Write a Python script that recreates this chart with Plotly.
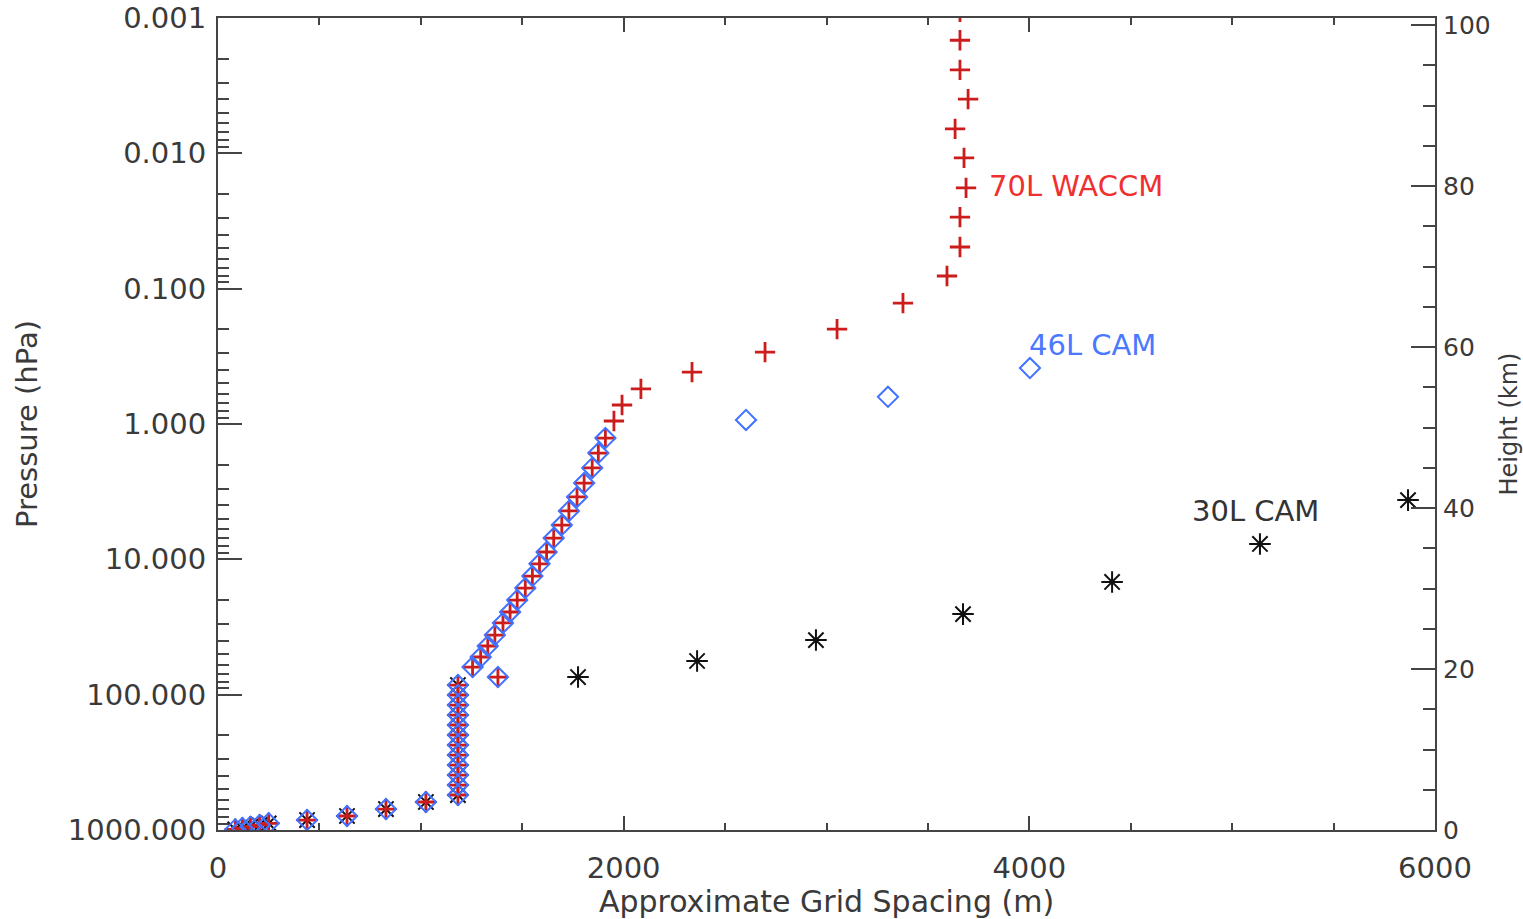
import math
import plotly.graph_objects as go

# ---------------- data (grid spacing in m, pressure in hPa) ----------------
# levels shared by all three configurations (troposphere)
shared_column_dx = [1183] * 12
shared_column_p = [84.9, 100.6, 119.3, 141.4, 167.6, 198.7, 235.6, 279.3, 331.1, 392.5, 465.3, 551.5]
shared_bottom_dx = [1025, 828, 636, 439, 250, 205, 160, 120, 85]
shared_bottom_p = [621, 700, 788, 844, 893, 920, 945, 968, 990]

# levels shared by 70L WACCM and 46L CAM (stratosphere)
strat_dx = [1910, 1875, 1845, 1805, 1770, 1730, 1695, 1655, 1620, 1585,
            1550, 1515, 1475, 1440, 1405, 1365, 1330, 1295, 1255, 1380]
strat_p = [1.27, 1.64, 2.11, 2.73, 3.46, 4.39, 5.58, 6.96, 8.83, 10.8,
           13.3, 16.3, 20.0, 24.5, 29.5, 36.3, 43.7, 52.7, 62.5, 74.1]

# 70L WACCM upper levels
waccm_top_dx = [3658, 3658, 3658, 3698, 3634, 3678, 3688, 3658, 3658, 3594,
                3377, 3052, 2697, 2337, 2085, 1992, 1952]
waccm_top_p = [0.0009, 0.00146, 0.00242, 0.00397, 0.0066, 0.0108, 0.0180, 0.0296, 0.0492, 0.0806,
               0.128, 0.199, 0.294, 0.413, 0.551, 0.724, 0.95]

# 46L CAM upper levels
cam46_top_dx = [4003, 3303, 2603]
cam46_top_p = [0.386, 0.630, 0.934]

# 30L CAM upper levels
cam30_top_dx = [5867, 5137, 4408, 3673, 2948, 2362, 1775]
cam30_top_p = [3.65, 7.70, 14.7, 25.4, 39.5, 56.4, 74.1]

# series labels and their anchor points (grid spacing, pressure)
label_text = ["70L WACCM", "46L CAM", "30L CAM"]
label_dx = [3806, 4003, 4807]
label_p = [0.0174, 0.261, 4.40]

# axis ticks
x_ticks = [0, 2000, 4000, 6000]
p_ticks = [0.001, 0.01, 0.1, 1, 10, 100, 1000]
p_ticktext = ["0.001", "0.010", "0.100", "1.000", "10.000", "100.000", "1000.000"]
h_ticks = [0, 20, 40, 60, 80, 100]

# ---------------- build series ----------------
waccm_dx = waccm_top_dx + strat_dx + shared_column_dx + shared_bottom_dx
waccm_p = waccm_top_p + strat_p + shared_column_p + shared_bottom_p
cam46_dx = cam46_top_dx + strat_dx + shared_column_dx + shared_bottom_dx
cam46_p = cam46_top_p + strat_p + shared_column_p + shared_bottom_p
cam30_dx = cam30_top_dx + shared_column_dx + shared_bottom_dx
cam30_p = cam30_top_p + shared_column_p + shared_bottom_p

RED = "#cc1c1c"
BLUE = "#4272ff"
BLACK = "#111111"
AXC = "#444444"
TXT = "#3a3a3a"
FONT = "DejaVu Sans"

fig = go.Figure()
fig.add_trace(go.Scatter(x=cam30_dx, y=cam30_p, mode="markers", name="30L CAM",
                         marker=dict(symbol="asterisk-open", size=18, color=BLACK,
                                     line=dict(color=BLACK, width=2))))
fig.add_trace(go.Scatter(x=waccm_dx, y=waccm_p, mode="markers", name="70L WACCM",
                         marker=dict(symbol="cross-thin-open", size=14.5, color=RED,
                                     line=dict(color=RED, width=2.8))))
fig.add_trace(go.Scatter(x=cam46_dx, y=cam46_p, mode="markers", name="46L CAM",
                         marker=dict(symbol="diamond-open", size=15.5, color=BLUE,
                                     line=dict(color=BLUE, width=2))))
# empty trace to bind the height axis
fig.add_trace(go.Scatter(x=[], y=[], yaxis="y2", mode="markers", showlegend=False, hoverinfo="skip"))

label_colors = ["#f03030", "#4a78ff", "#333333"]
for t, dx, p, c in zip(label_text, label_dx, label_p, label_colors):
    fig.add_annotation(x=dx, y=math.log10(p), xref="x", yref="y", text=t, showarrow=False,
                       xanchor="left", yanchor="middle", xshift=-3,
                       font=dict(family=FONT, size=29, color=c))

x_minor = [v for v in range(500, 6000, 500) if v not in x_ticks]
p_minor = [k * 10 ** d for d in range(-3, 3) for k in range(2, 10)]
h_minor = [v for v in range(5, 100, 5) if v not in h_ticks]

fig.update_layout(
    width=1523, height=919,
    margin=dict(l=218, r=88, t=18, b=89),
    paper_bgcolor="white", plot_bgcolor="white",
    showlegend=False,
    font=dict(family=FONT, color=TXT),
    xaxis=dict(range=[0, 6000], tickmode="array", tickvals=x_ticks, automargin=False,
               ticks="inside", ticklen=14, tickwidth=2, tickcolor=AXC,
               showline=True, linecolor=AXC, linewidth=2, mirror="ticks",
               showgrid=False, zeroline=False,
               minor=dict(tickmode="array", tickvals=x_minor, ticks="inside", ticklen=7,
                          tickwidth=2, tickcolor=AXC, showgrid=False),
               tickfont=dict(family=FONT, size=29, color=TXT), ticklabelstandoff=11,
               title=dict(text="Approximate Grid Spacing (m)", font=dict(family=FONT, size=30, color=TXT),
                          standoff=8)),
    yaxis=dict(type="log", range=[3, -3], tickmode="array", tickvals=p_ticks, ticktext=p_ticktext,
               automargin=False,
               ticks="inside", ticklen=24, tickwidth=2, tickcolor=AXC,
               showline=True, linecolor=AXC, linewidth=2, mirror=False,
               showgrid=False, zeroline=False,
               minor=dict(tickmode="array", tickvals=p_minor, ticks="inside", ticklen=11,
                          tickwidth=2, tickcolor=AXC, showgrid=False),
               tickfont=dict(family=FONT, size=29, color=TXT), ticklabelstandoff=4,
               title=dict(text="Pressure (hPa)", font=dict(family=FONT, size=29, color=TXT), standoff=22)),
    yaxis2=dict(overlaying="y", side="right", anchor="x", range=[0, 100.9], tickmode="array", tickvals=h_ticks,
                automargin=False,
                ticks="inside", ticklen=24, tickwidth=2, tickcolor=AXC,
                showline=True, linecolor=AXC, linewidth=2,
                showgrid=False, zeroline=False,
                minor=dict(tickmode="array", tickvals=h_minor, ticks="inside", ticklen=12,
                           tickwidth=2, tickcolor=AXC, showgrid=False),
                tickfont=dict(family=FONT, size=25, color=TXT), ticklabelstandoff=1,
                title=dict(text="Height (km)", font=dict(family=FONT, size=24, color=TXT), standoff=12)),
)

fig.write_html("out.html")
